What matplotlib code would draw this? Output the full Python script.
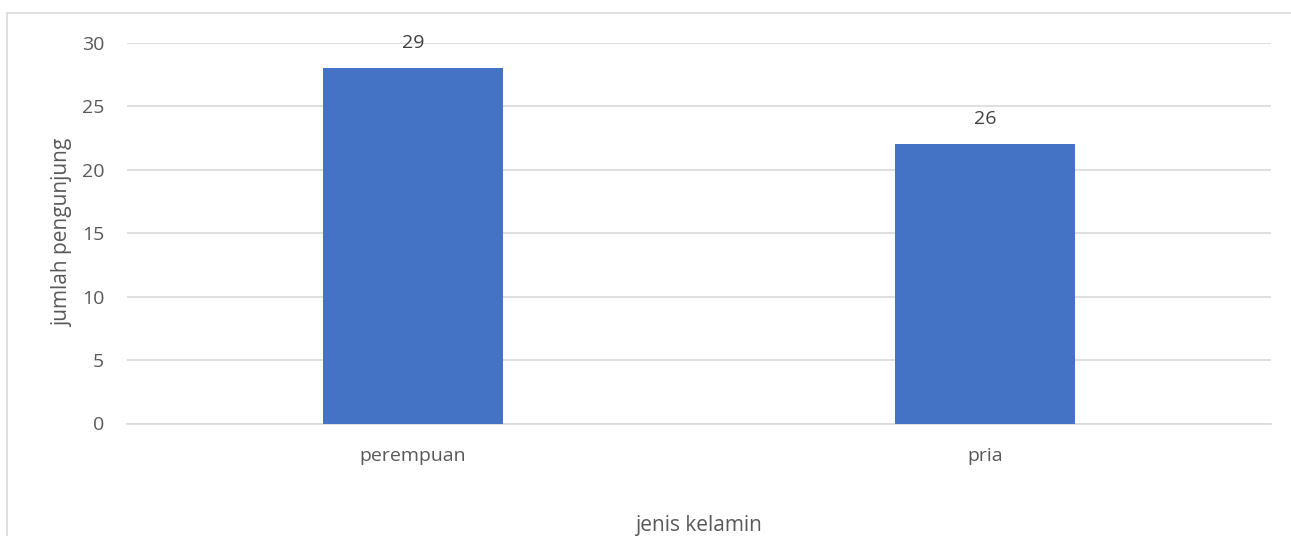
import matplotlib.pyplot as plt
from matplotlib.patches import Rectangle

categories = ['perempuan', 'pria']
values = [28, 22]
value_labels = ['29', '26']

plt.rcParams['font.family'] = ['Open Sans', 'DejaVu Sans']
text_color = '#595959'
grid_color = '#d9d9d9'

fig = plt.figure(figsize=(12.91, 5.36), dpi=100)
ax = fig.add_axes([127 / 1291, (536 - 423.5) / 536, 1144 / 1291, (423.5 - 42.5) / 536])

x = range(len(categories))
bars = ax.bar(x, values, width=0.313, color='#4472c4', zorder=3)
for b, lab in zip(bars, value_labels):
    ax.text(b.get_x() + b.get_width() / 2, b.get_height() + 1.25, lab,
            ha='center', va='bottom', fontsize=14, color='#404040')

ax.set_xlim(-0.5, 1.5)
ax.set_ylim(0, 30)
ax.set_yticks(range(0, 31, 5))
ax.set_xticks(list(x))
ax.set_xticklabels(categories)
ax.yaxis.grid(True, color=grid_color, linewidth=1.2, zorder=0)
for s in ['top', 'right', 'left']:
    ax.spines[s].set_visible(False)
ax.spines['bottom'].set_color(grid_color)
ax.spines['bottom'].set_linewidth(1.2)
ax.tick_params(axis='both', length=0, labelsize=14, colors=text_color)
ax.tick_params(axis='y', pad=16.5)
ax.tick_params(axis='x', pad=17)

ax.set_xlabel('jenis kelamin', fontsize=15, color=text_color, labelpad=36)
ax.set_ylabel('jumlah pengunjung', fontsize=15, color=text_color, labelpad=6)

fig.patches.append(Rectangle((6.5 / 1291, -0.05), 1.1, (536 - 13) / 536 + 0.05,
                             transform=fig.transFigure, fill=False,
                             edgecolor=grid_color, linewidth=1.2))

fig.savefig('out.png', dpi=100)
